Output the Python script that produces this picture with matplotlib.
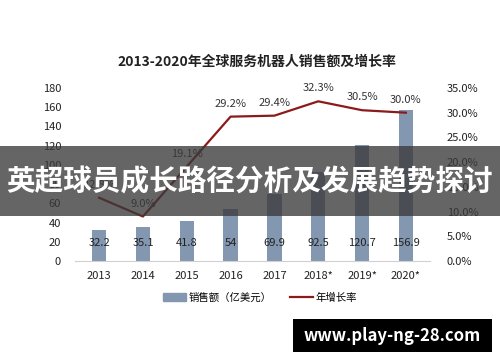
import matplotlib.pyplot as plt
import matplotlib.patches as mpatches

plt.rcParams['font.family'] = ['Noto Sans CJK SC', 'DejaVu Sans']

years = ['2013', '2014', '2015', '2016', '2017', '2018*', '2019*', '2020*']
sales = [32.2, 35.1, 41.8, 54, 69.9, 92.5, 120.7, 156.9]
growth = [12.8, 9.0, 19.1, 29.2, 29.4, 32.3, 30.5, 30.0]
growth_labels = ['12.8%', '9.0%', '19.1%', '29.2%', '29.4%', '32.3%', '30.5%', '30.0%']

bar_color = '#8497b0'
line_color = '#8b1a1a'

fig = plt.figure(figsize=(5, 3.62), dpi=100)
ax = fig.add_axes([0.15, 0.279, 0.71, 0.478])
x = list(range(len(years)))

ax.bar(x, sales, width=0.33, color=bar_color, zorder=2)
for i, v in enumerate(sales):
    ax.text(i, 19, f'{v:g}', ha='center', va='center', fontsize=8, color='#222222')
ax.set_ylim(0, 180)
ax.set_yticks(range(0, 181, 20))
ax.set_xlim(-0.55, len(years) - 0.45)
ax.set_xticks(x)
ax.set_xticklabels(years)
for s in ['top', 'right', 'left']:
    ax.spines[s].set_visible(False)
ax.spines['bottom'].set_color('#d0d0d0')
ax.tick_params(axis='both', length=0, labelsize=8, colors='#222222')
ax.tick_params(axis='x', pad=7)
ax.tick_params(axis='y', pad=10)

ax2 = ax.twinx()
ax2.plot(x, growth, color=line_color, linewidth=1.6, zorder=3)
for i, (g, lab) in enumerate(zip(growth, growth_labels)):
    ax2.text(i, g + 1.6, lab, ha='center', va='bottom', fontsize=8, color='#333333')
ax2.set_ylim(0, 35)
ax2.set_yticks(range(0, 36, 5))
ax2.set_yticklabels([f'{t:.1f}%' for t in range(0, 36, 5)])
for s in ax2.spines.values():
    s.set_visible(False)
ax2.tick_params(axis='y', length=0, labelsize=8, colors='#222222', pad=12)

fig.text(0.514, 0.828, '2013-2020年全球服务机器人销售额及增长率', ha='center', va='center',
         fontsize=10, fontweight='bold', color='#222222')

handles = [mpatches.Patch(color=bar_color, label='销售额（亿美元）'),
           plt.Line2D([], [], color=line_color, linewidth=1.6, label='年增长率')]
fig.legend(handles=handles, loc='center', bbox_to_anchor=(0.52, 0.178), ncol=2, frameon=False,
           fontsize=7.5, handlelength=2.2, handletextpad=0.2, columnspacing=1.8)

# overlay banner
fig.patches.append(mpatches.Rectangle((0, 1 - 216 / 362), 1, 70 / 362, transform=fig.transFigure,
                                      facecolor='#3a3a3a', alpha=0.78, zorder=5))
fig.text(0.5, 1 - 181 / 362, '英超球员成长路径分析及发展趋势探讨', ha='center', va='center',
         fontsize=20.6, fontweight='bold', color='white', zorder=6)

# watermark
fig.patches.append(mpatches.Rectangle((293 / 500, 1 - 352 / 362), 199 / 500, 33 / 362,
                                      transform=fig.transFigure, facecolor='black', zorder=5))
fig.text(392 / 500, 1 - 336 / 362, 'www.play-ng-28.com', ha='center', va='center',
         fontsize=12, fontweight='bold', color='white', zorder=6)

fig.savefig('out.png', dpi=100)
